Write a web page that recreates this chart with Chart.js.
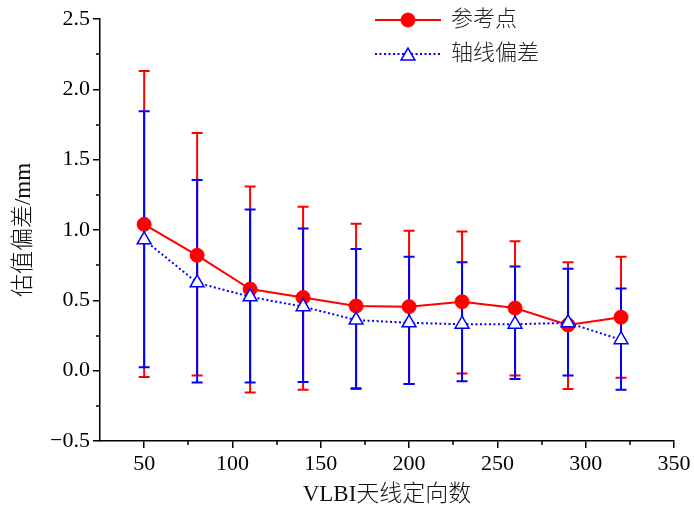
<!DOCTYPE html>
<html>
<head>
<meta charset="utf-8">
<script src="https://cdn.jsdelivr.net/npm/chart.js@4/dist/chart.umd.min.js"></script>
<style>
    html, body { margin: 0; padding: 0; background: #fff; }
    #wrap { width: 694px; height: 511px; }
</style>
</head>
<body>
<div id="wrap"><canvas id="chart"></canvas></div>
<script>
// antenna orientation counts (x)
const counts = [50, 80, 110, 140, 170, 200, 230, 260, 290, 320];

// 参考点
const refMean = [1.04, 0.82, 0.58, 0.52, 0.46, 0.455, 0.49, 0.445, 0.325, 0.38];
const refUpper = [2.13, 1.69, 1.31, 1.165, 1.045, 0.995, 0.99, 0.92, 0.77, 0.81];
const refLower = [-0.045, -0.035, -0.155, -0.135, -0.13, -0.095, -0.02, -0.035, -0.13, -0.05];

// 轴线偏差
const axisMean = [0.93, 0.625, 0.525, 0.455, 0.36, 0.34, 0.33, 0.33, 0.34, 0.22];
const axisUpper = [1.845, 1.355, 1.145, 1.01, 0.865, 0.81, 0.77, 0.74, 0.725, 0.585];
const axisLower = [0.025, -0.085, -0.085, -0.08, -0.125, -0.095, -0.075, -0.06, -0.035, -0.135];

const seriesNames = ["参考点", "轴线偏差"];

const FONT = "'Liberation Serif', 'Noto Sans CJK SC', serif";

function toPoints(xs, ys) {
    return xs.map((x, i) => ({ x: x, y: ys[i] }));
}

// vertical error bars with caps, drawn under the lines
const errorBars = {
    id: "errorBars",
    beforeDatasetsDraw(chart) {
        const ctx = chart.ctx;
        const xs = chart.scales.x;
        const ys = chart.scales.y;
        chart.data.datasets.forEach((ds) => {
            ctx.save();
            ctx.strokeStyle = ds.borderColor;
            ctx.lineWidth = 2;
            ds.data.forEach((p, i) => {
                const px = xs.getPixelForValue(p.x);
                const top = ys.getPixelForValue(ds.errHi[i]);
                const bot = ys.getPixelForValue(ds.errLo[i]);
                ctx.beginPath();
                ctx.moveTo(px, top);
                ctx.lineTo(px, bot);
                ctx.moveTo(px - 5.5, top);
                ctx.lineTo(px + 5.5, top);
                ctx.moveTo(px - 5.5, bot);
                ctx.lineTo(px + 5.5, bot);
                ctx.stroke();
            });
            ctx.restore();
        });
    },
};

// minor ticks halfway between the major ones
const minorTicks = {
    id: "minorTicks",
    afterDraw(chart) {
        const ctx = chart.ctx;
        const xs = chart.scales.x;
        const ys = chart.scales.y;
        ctx.save();
        ctx.strokeStyle = "#000";
        ctx.lineWidth = 1.5;
        ctx.beginPath();
        for (let i = 0; i < xs.ticks.length - 1; i++) {
            const v = (xs.ticks[i].value + xs.ticks[i + 1].value) / 2;
            const px = Math.round(xs.getPixelForValue(v));
            ctx.moveTo(px, chart.chartArea.bottom);
            ctx.lineTo(px, chart.chartArea.bottom + 4);
        }
        for (let i = 0; i < ys.ticks.length - 1; i++) {
            const v = (ys.ticks[i].value + ys.ticks[i + 1].value) / 2;
            const py = Math.round(ys.getPixelForValue(v));
            ctx.moveTo(chart.chartArea.left, py);
            ctx.lineTo(chart.chartArea.left - 4, py);
        }
        ctx.stroke();
        ctx.restore();
    },
};

// legend in the upper right, line + marker + label
const insideLegend = {
    id: "insideLegend",
    afterDraw(chart) {
        const ctx = chart.ctx;
        const rows = [20, 54];
        chart.data.datasets.forEach((ds, i) => {
            const y = rows[i];
            ctx.save();
            ctx.strokeStyle = ds.borderColor;
            ctx.lineWidth = ds.borderWidth;
            ctx.setLineDash(ds.borderDash || []);
            ctx.beginPath();
            ctx.moveTo(375, y);
            ctx.lineTo(441, y);
            ctx.stroke();
            ctx.setLineDash([]);
            ctx.fillStyle = ds.pointBackgroundColor;
            ctx.strokeStyle = ds.pointBorderColor;
            ctx.lineWidth = ds.pointBorderWidth;
            Chart.helpers.drawPoint(ctx, {
                pointStyle: ds.pointStyle,
                radius: ds.pointRadius,
                rotation: 0,
                borderWidth: ds.pointBorderWidth,
            }, 408, y + (ds.pointStyle === "triangle" ? 2 : 0));
            ctx.fillStyle = "#222";
            ctx.font = "300 22px " + FONT;
            ctx.textBaseline = "middle";
            ctx.fillText(ds.label, 451, y);
            ctx.restore();
        });
    },
};

new Chart(document.getElementById("chart"), {
    type: "line",
    data: {
        datasets: [
            {
                label: seriesNames[0],
                data: toPoints(counts, refMean),
                errHi: refUpper,
                errLo: refLower,
                borderColor: "#ff0000",
                borderWidth: 2,
                pointStyle: "circle",
                pointRadius: 7,
                pointBackgroundColor: "#ff0000",
                pointBorderColor: "#ff0000",
                pointBorderWidth: 1,
                tension: 0,
                order: 2,
            },
            {
                label: seriesNames[1],
                data: toPoints(counts, axisMean),
                errHi: axisUpper,
                errLo: axisLower,
                borderColor: "#0000ff",
                borderWidth: 2,
                borderDash: [2, 2.5],
                pointStyle: "triangle",
                pointRadius: 8,
                pointBackgroundColor: "#ffffff",
                pointBorderColor: "#0000ff",
                pointBorderWidth: 1.5,
                tension: 0,
                order: 1,
            },
        ],
    },
    options: {
        responsive: true,
        maintainAspectRatio: false,
        animation: false,
        layout: { padding: { top: 19, right: 20, left: 0, bottom: 0 } },
        plugins: {
            legend: { display: false },
            tooltip: { enabled: false },
        },
        scales: {
            x: {
                type: "linear",
                min: 25,
                max: 350,
                afterFit: (s) => { s.height = 70; },
                ticks: {
                    stepSize: 50,
                    includeBounds: false,
                    color: "#000",
                    padding: 3,
                    maxRotation: 0,
                    font: { family: FONT, size: 22 },
                },
                grid: {
                    drawOnChartArea: false,
                    tickLength: 7,
                    color: "#000",
                    lineWidth: 1.5,
                },
                border: { color: "#000", width: 1.5 },
                title: {
                    display: true,
                    text: "VLBI天线定向数",
                    color: "#111",
                    font: { family: FONT, size: 23, weight: 300 },
                    padding: { top: 0, bottom: 2 },
                },
            },
            y: {
                min: -0.5,
                max: 2.5,
                afterFit: (s) => { s.width = 100; },
                ticks: {
                    stepSize: 0.5,
                    color: "#000",
                    padding: 3,
                    font: { family: FONT, size: 22 },
                    callback: (v) => (v < 0 ? "\u22120.5" : v.toFixed(1)),
                },
                grid: {
                    drawOnChartArea: false,
                    tickLength: 7,
                    color: "#000",
                    lineWidth: 1.5,
                },
                border: { color: "#000", width: 1.5 },
                title: {
                    display: true,
                    text: "估值偏差/mm",
                    color: "#111",
                    font: { family: FONT, size: 23, weight: 300 },
                    padding: { top: 10, bottom: 0 },
                },
            },
        },
    },
    plugins: [errorBars, minorTicks, insideLegend],
});
</script>
</body>
</html>
